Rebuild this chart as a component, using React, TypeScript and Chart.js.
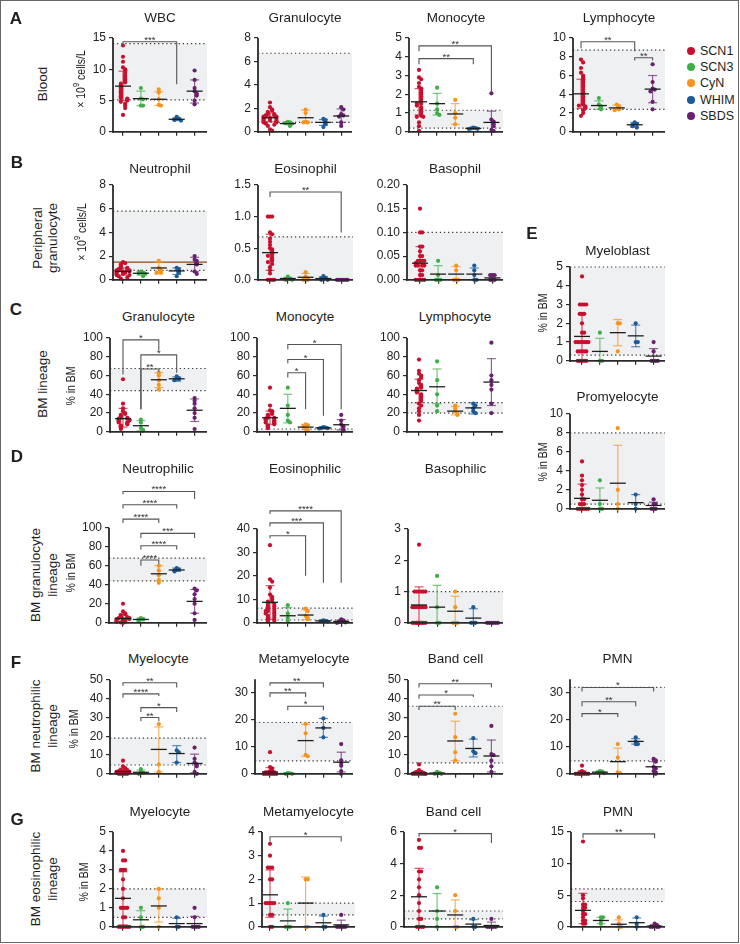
import React, { useEffect, useRef } from 'react';
import { Chart, registerables } from 'chart.js';

Chart.register(...registerables);

const FONT = '"Liberation Sans", Arial, Helvetica, sans-serif';
const groups = ['SCN1', 'SCN3', 'CyN', 'WHIM', 'SBDS'];
const groupColors = ['#c8102e', '#3fae49', '#f7941d', '#1c5a9a', '#6b1f6f'];

type Sig = [number, number, number, number, number, string];

// ---------- A: Blood ----------
const aWbcValues = [
  [13.8, 12.0, 11.2, 10.3, 10.0, 9.8, 9.4, 9.0, 8.7, 8.4, 8.1, 7.9, 7.7, 7.5, 7.3, 7.1, 6.9, 6.7, 6.5, 6.3, 6.1, 5.9, 5.7, 5.5, 5.4, 5.3, 5.2, 5.0, 4.8, 4.5, 4.2, 3.8, 2.7],
  [7.0, 5.3, 5.2, 4.2, 4.2],
  [6.8, 6.3, 5.2, 4.3, 4.2],
  [2.4, 2.1, 2.0, 1.9, 1.8],
  [9.8, 8.3, 7.0, 6.5, 6.1, 5.8, 5.0, 4.4],
];
const aWbcMean = [7.3, 5.3, 5.2, 2.0, 6.5];
const aWbcLow = [5.0, 4.2, 4.2, 1.8, 4.6];
const aWbcHigh = [9.7, 6.5, 6.4, 2.2, 8.3];
const aWbcRef = [5.1, 14.1];
const aWbcSig: Sig[] = [[0, 3, 14.4, 13.6, 7.6, '***']];

const aGranValues = [
  [2.5, 2.1, 1.9, 1.8, 1.7, 1.6, 1.5, 1.5, 1.4, 1.4, 1.3, 1.3, 1.3, 1.2, 1.2, 1.2, 1.1, 1.1, 1.0, 1.0, 1.0, 0.9, 0.9, 0.8, 0.8, 0.7, 0.6, 0.5, 0.2, 0.1],
  [0.85, 0.8, 0.75, 0.7, 0.5],
  [1.9, 1.6, 0.85, 0.8, 0.8],
  [1.1, 1.0, 0.8, 0.65, 0.4],
  [2.1, 1.9, 1.5, 1.4, 1.3, 0.8, 0.5],
];
const aGranMean = [1.2, 0.7, 1.2, 0.8, 1.35];
const aGranLow = [0.85, 0.6, 0.8, 0.55, 0.8];
const aGranHigh = [1.6, 0.8, 1.85, 1.05, 1.95];
const aGranRef = [0.8, 6.7];
const aGranSig: Sig[] = [];

const aMonoValues = [
  [3.3, 2.9, 2.8, 2.6, 2.4, 2.3, 2.2, 2.1, 2.0, 1.9, 1.8, 1.7, 1.6, 1.5, 1.5, 1.4, 1.3, 1.2, 1.1, 1.0, 0.9, 0.85, 0.8, 0.8, 0.5, 0.3, 0.05],
  [2.35, 1.5, 1.2, 1.0, 0.9],
  [1.7, 1.0, 0.75, 0.4],
  [0.22, 0.2, 0.18, 0.16, 0.15],
  [2.05, 0.65, 0.55, 0.5, 0.4, 0.3, 0.1, 0.05],
];
const aMonoMean = [1.6, 1.5, 0.95, 0.18, 0.5];
const aMonoLow = [0.9, 0.9, 0.4, 0.15, 0.0];
const aMonoHigh = [2.3, 2.05, 1.5, 0.21, 1.1];
const aMonoRef = [0.2, 1.15];
const aMonoSig: Sig[] = [[0, 3, 3.9, 3.6, 3.6, '**'], [0, 4, 4.58, 4.3, 2.15, '**']];

const aLymphValues = [
  [7.7, 7.4, 6.8, 6.3, 6.0, 5.8, 5.6, 5.4, 5.2, 5.0, 4.8, 4.5, 4.2, 4.0, 3.8, 3.6, 3.4, 3.2, 3.0, 2.9, 2.8, 2.7, 2.6, 2.5, 2.3, 2.0, 1.7],
  [3.6, 2.9, 2.7, 2.5, 2.4],
  [2.9, 2.7, 2.5, 2.4, 2.3],
  [1.0, 0.85, 0.75, 0.6, 0.45],
  [7.2, 5.3, 4.6, 4.5, 4.3, 3.2, 2.4],
];
const aLymphMean = [4.05, 2.8, 2.55, 0.75, 4.55];
const aLymphLow = [2.5, 2.4, 2.35, 0.5, 3.1];
const aLymphHigh = [5.6, 3.3, 2.85, 1.0, 6.0];
const aLymphRef = [2.4, 8.7];
const aLymphSig: Sig[] = [[0, 3, 9.6, 8.9, 8.6, '**'], [3, 4, 7.9, 7.6, 7.6, '**']];

// ---------- B: Peripheral granulocyte ----------
const bNeutValues = [
  [1.5, 1.4, 1.3, 1.2, 1.1, 1.0, 1.0, 0.9, 0.9, 0.8, 0.8, 0.8, 0.7, 0.7, 0.7, 0.6, 0.6, 0.6, 0.5, 0.5, 0.4, 0.4, 0.3, 0.2, 0.1],
  [0.7, 0.6, 0.55, 0.5, 0.3],
  [1.6, 1.0, 0.8, 0.6, 0.6],
  [1.0, 0.9, 0.7, 0.6, 0.3],
  [2.0, 1.7, 1.6, 1.4, 1.3, 0.7, 0.5],
];
const bNeutMean = [0.7, 0.55, 1.0, 0.75, 1.3];
const bNeutLow = [0.4, 0.4, 0.5, 0.45, 0.7];
const bNeutHigh = [1.0, 0.7, 1.5, 1.0, 1.9];
const bNeutRef = [0.8, 5.8];
const bNeutLine = 1.5;
const bNeutSig: Sig[] = [];

const bEosValues = [
  [1.0, 1.0, 1.0, 0.75, 0.72, 0.65, 0.6, 0.55, 0.5, 0.48, 0.45, 0.42, 0.4, 0.38, 0.35, 0.32, 0.3, 0.28, 0.25, 0.2, 0.15, 0.1, 0.0, 0.0, 0.0, 0.0],
  [0.05, 0.02, 0.01, 0.0, 0.0],
  [0.12, 0.05, 0.02, 0.0, 0.0],
  [0.06, 0.03, 0.02, 0.0, 0.0],
  [0.0, 0.0, 0.0, 0.0, 0.0, 0.0],
];
const bEosMean = [0.43, 0.02, 0.04, 0.02, 0.0];
const bEosLow = [0.15, 0.0, 0.0, 0.0, 0.0];
const bEosHigh = [0.72, 0.04, 0.1, 0.05, 0.0];
const bEosRef = [0, 0.68];
const bEosSig: Sig[] = [[0, 4, 1.39, 1.31, 0.75, '**']];

const bBasoValues = [
  [0.15, 0.10, 0.10, 0.07, 0.07, 0.06, 0.05, 0.05, 0.04, 0.04, 0.04, 0.04, 0.035, 0.03, 0.03, 0.03, 0.03, 0.02, 0.02, 0.01, 0.01, 0, 0, 0, 0, 0],
  [0.04, 0.01, 0, 0, 0],
  [0.03, 0.02, 0, 0, 0],
  [0.03, 0.02, 0.01, 0, 0],
  [0.01, 0.01, 0.01, 0, 0, 0],
];
const bBasoMean = [0.035, 0.012, 0.012, 0.012, 0.004];
const bBasoLow = [0, 0, 0, 0, 0];
const bBasoHigh = [0.07, 0.03, 0.028, 0.025, 0.009];
const bBasoRef = [0, 0.10];
const bBasoSig: Sig[] = [];

// ---------- C: BM lineage ----------
const cGranValues = [
  [56, 30, 25, 22, 20, 19, 18, 17, 16, 15, 15, 14, 14, 13, 13, 12, 12, 11, 10, 10, 9, 8, 7, 6, 5, 4, 3],
  [13, 10, 4, 2, 1],
  [63, 60, 55, 50, 45],
  [59, 57, 56, 55],
  [36, 33, 30, 25, 20, 15, 3],
];
const cGranMean = [14, 6.5, 55.5, 56.5, 23];
const cGranLow = [5, 1, 47, 54, 11];
const cGranHigh = [25, 12, 63, 58.5, 35];
const cGranRef = [44, 67.5];
const cGranSig: Sig[] = [[0, 2, 98, 61, 87, '*'], [1, 3, 82, 24, 63, '*'], [1, 2, 67, 24, 64, '**']];

const cMonoValues = [
  [47, 28, 23, 22, 20, 19, 18, 17, 16, 15, 15, 14, 14, 13, 12, 12, 11, 10, 10, 9, 8, 7, 6, 5, 4],
  [47, 28, 18, 12, 10],
  [8, 7, 6, 3, 2],
  [5, 4.5, 4, 3.8, 3.5],
  [18, 12, 8, 6, 4, 2, 1],
];
const cMonoMean = [15, 25, 5, 4.2, 7.5];
const cMonoLow = [8, 9.5, 2.5, 3.6, 2];
const cMonoHigh = [22, 40, 8, 5, 13];
const cMonoRef = [0, 3];
const cMonoSig: Sig[] = [[1, 2, 63, 58, 24, '*'], [1, 3, 77, 73, 17, '*'], [1, 4, 93, 88, 24, '*']];

const cLymphValues = [
  [77, 65, 62, 60, 58, 55, 52, 50, 48, 47, 46, 45, 44, 43, 42, 40, 38, 36, 35, 33, 30, 28, 25, 22, 18, 12],
  [75, 55, 40, 28, 22],
  [28, 25, 22, 20, 18],
  [30, 28, 25, 22, 20],
  [95, 60, 55, 50, 45, 30, 20],
];
const cLymphMean = [44, 48, 22, 25.5, 53];
const cLymphLow = [31, 30, 18, 19, 28];
const cLymphHigh = [56, 67, 27, 31, 78];
const cLymphRef = [20, 31];
const cLymphSig: Sig[] = [];

// ---------- D: BM granulocyte lineage ----------
const dNeutValues = [
  [20, 12, 10, 9, 8, 7, 6, 6, 5, 5, 5, 4, 4, 4, 3, 3, 3, 2, 2, 2, 1, 1, 1, 0.5, 0],
  [5, 4, 3, 2],
  [60, 55, 50, 45, 42],
  [57.5, 56, 55, 54],
  [36, 34, 30, 25, 20, 10, 3],
];
const dNeutMean = [4.5, 3.5, 51.5, 55.5, 22.5];
const dNeutLow = [1, 2, 44, 54, 10];
const dNeutHigh = [9, 5, 60, 57.5, 35];
const dNeutRef = [44, 68];
const dNeutSig: Sig[] = [
  [0, 4, 138, 135, 130, '****'],
  [0, 3, 124, 120, 120, '****'],
  [0, 2, 109, 105, 105, '****'],
  [1, 4, 94, 89, 89, '***'],
  [1, 3, 81, 77, 77, '****'],
  [1, 2, 66, 60, 62, '****'],
];

const dEosValues = [
  [33, 18.5, 17.5, 15, 12, 11, 10, 9, 9, 8, 8, 7, 7, 6, 6, 5, 5, 5, 4, 4, 3, 3, 2, 2, 1.5, 1, 0.5],
  [7.5, 4, 2, 0.5],
  [6, 5, 3, 2, 1.5],
  [1, 0.8, 0.7, 0.5],
  [1.5, 1, 0.5, 0.3, 0.2, 0],
];
const dEosMean = [8.7, 3, 3.3, 0.8, 0.6];
const dEosLow = [1.5, 0, 1.3, 0.5, 0];
const dEosHigh = [15.8, 6.5, 5.5, 1, 1.2];
const dEosRef = [1.2, 6.2];
const dEosSig: Sig[] = [[0, 4, 47.6, 46.3, 17, '****'], [0, 3, 42.5, 41, 17, '***'], [0, 2, 37, 36, 20, '*']];

const dBasoValues = [
  [2.5, 1, 1, 1, 1, 1, 1, 0.5, 0.5, 0.5, 0.5, 0.5, 0.5, 0.5, 0.5, 0, 0, 0, 0, 0, 0, 0, 0, 0, 0],
  [1.5, 0.5, 0, 0],
  [1, 0.5, 0, 0, 0],
  [0.5, 0, 0, 0],
  [0, 0, 0, 0, 0, 0],
];
const dBasoMean = [0.57, 0.5, 0.37, 0.15, 0];
const dBasoLow = [0, 0, 0, 0, 0];
const dBasoHigh = [1.15, 1.2, 0.85, 0.45, 0];
const dBasoRef = [0, 1];
const dBasoSig: Sig[] = [];

// ---------- E ----------
const eBlastValues = [
  [4.5, 3, 3, 3, 3, 2.5, 2.5, 2.5, 2, 1.5, 1.5, 1, 1, 1, 1, 1, 1, 1, 0.5, 0.5, 0.5, 0.5, 0.5, 0, 0, 0, 0, 0],
  [1.5, 0, 0],
  [2, 2, 0.5],
  [2, 1, 1],
  [1, 0.5, 0, 0, 0, 0],
];
const eBlastMean = [1.3, 0.5, 1.5, 1.33, 0.25];
const eBlastLow = [0, 0, 0.8, 0.75, 0];
const eBlastHigh = [2.5, 1.2, 2.2, 1.9, 0.65];
const eBlastRef = [0.3, 5];
const eBlastSig: Sig[] = [];

const eProValues = [
  [5, 3.5, 3, 2.5, 2, 1.5, 1, 1, 0.5, 0.5, 0.5, 0, 0, 0, 0, 0, 0],
  [3, 0.5, 0, 0],
  [8.5, 2, 0.5, 0],
  [1.5, 0.5, 0],
  [1, 0.5, 0.5, 0, 0, 0],
];
const eProMean = [1.1, 0.9, 2.7, 0.65, 0.35];
const eProLow = [0, 0, 0, 0, 0.05];
const eProHigh = [2.6, 2.2, 6.7, 1.5, 0.7];
const eProRef = [0.5, 8];
const eProSig: Sig[] = [];

// ---------- F: BM neutrophilic lineage ----------
const fMyeloValues = [
  [7, 4, 3, 2.5, 2, 2, 1.5, 1.5, 1, 1, 1, 1, 0.5, 0.5, 0.5, 0, 0, 0, 0, 0],
  [2.5, 1, 0.5, 0],
  [26.5, 5, 1],
  [12.5, 11.5, 6],
  [14, 8, 6, 5, 4, 1, 0],
];
const fMyeloMean = [1.2, 0.8, 13, 10.8, 5.5];
const fMyeloLow = [0, 0, 1, 6, 0.5];
const fMyeloHigh = [3, 2, 25, 15, 10.5];
const fMyeloRef = [4.7, 19];
const fMyeloSig: Sig[] = [[0, 3, 48.5, 47, 46, '**'], [0, 2, 42.6, 40.5, 41.5, '****'], [1, 3, 35.3, 33, 33, '*'], [1, 2, 30, 28, 28, '**']];

const fMetaValues = [
  [8, 2.5, 2, 1, 1, 0.5, 0.5, 0.5, 0, 0, 0, 0, 0, 0, 0],
  [0.3, 0.2, 0, 0],
  [18.5, 15, 7, 6.5],
  [20.5, 17, 13.5],
  [11, 5, 4, 3, 1, 0],
];
const fMetaMean = [0.7, 0.1, 12.3, 17, 4.3];
const fMetaLow = [0, 0, 6.5, 13.5, 0.7];
const fMetaHigh = [2.3, 0.3, 18.3, 20.5, 8];
const fMetaRef = [4.8, 19];
const fMetaSig: Sig[] = [[0, 3, 33.7, 32.6, 32, '**'], [0, 2, 30, 28.5, 28.5, '**'], [1, 3, 25, 23.5, 23.5, '*']];

const fBandValues = [
  [5, 2, 1, 1, 0.5, 0.5, 0.5, 0, 0, 0, 0, 0, 0, 0, 0],
  [1, 0.5, 0, 0],
  [32, 19.5, 11.5, 7],
  [19, 12, 11],
  [25.5, 10.5, 10, 7, 4, 1],
];
const fBandMean = [0.5, 0.4, 17.5, 13.5, 9.5];
const fBandLow = [0, 0, 7, 9, 1];
const fBandHigh = [1.5, 0.8, 28, 18.5, 18];
const fBandRef = [5.8, 36];
const fBandSig: Sig[] = [[0, 4, 48, 46, 46, '**'], [0, 3, 42, 40, 41, '*'], [0, 2, 36, 34, 34, '**']];

const fPmnValues = [
  [3, 1, 0.5, 0.5, 0, 0, 0, 0, 0, 0, 0, 0],
  [1, 0.8, 0.5, 0.2],
  [11, 6, 0.5, 0.3],
  [13.5, 12, 11, 11],
  [5.5, 5, 4.5, 2.5, 2, 1, 0.5, 0],
];
const fPmnMean = [0.3, 0.6, 4.5, 12, 2.6];
const fPmnLow = [0, 0.2, 0, 11, 0];
const fPmnHigh = [1, 1, 9.5, 13, 4.5];
const fPmnRef = [4.8, 32];
const fPmnSig: Sig[] = [[0, 4, 32, 30.5, 30.5, '*'], [0, 3, 26.7, 25, 25, '**'], [0, 2, 22.3, 21, 21, '*']];

// ---------- G: BM eosinophilic lineage ----------
const gMyeloValues = [
  [4, 3.5, 3.5, 3, 3, 3, 2.5, 2, 1.5, 1, 1, 1, 1, 0.5, 0.5, 0, 0, 0, 0, 0, 0],
  [1, 0.5, 0, 0],
  [2, 1.5, 1, 0],
  [0.5, 0, 0],
  [1, 0.5, 0, 0, 0, 0],
];
const gMyeloMean = [1.5, 0.37, 1.1, 0.17, 0.17];
const gMyeloLow = [0.1, 0, 0.25, 0, 0];
const gMyeloHigh = [2.9, 0.85, 2, 0.45, 0.55];
const gMyeloRef = [0.5, 2];
const gMyeloSig: Sig[] = [];

const gMetaValues = [
  [3.5, 3, 2.5, 2.5, 2.5, 2, 2, 1, 1, 1, 1, 1, 0.5, 0.5, 0, 0],
  [1, 0, 0, 0],
  [2, 2, 0, 0],
  [0.5, 0, 0],
  [0.5, 0, 0, 0, 0, 0],
];
const gMetaMean = [1.35, 0.25, 1, 0.17, 0.08];
const gMetaLow = [0.4, 0, 0, 0, 0];
const gMetaHigh = [2.4, 0.75, 2.1, 0.45, 0.28];
const gMetaRef = [0.5, 1];
const gMetaSig: Sig[] = [[0, 4, 3.8, 3.6, 3.6, '*']];

const gBandValues = [
  [5.5, 5, 5, 3.5, 3.5, 3, 2.5, 2, 1.5, 1, 0.5, 0.5, 0, 0, 0, 0],
  [2.5, 1, 0.5, 0],
  [2, 1, 0, 0],
  [0.5, 0, 0],
  [0.5, 0, 0, 0, 0, 0],
];
const gBandMean = [1.9, 1, 0.75, 0.17, 0.08];
const gBandLow = [0, 0, 0, 0, 0];
const gBandHigh = [3.7, 2.1, 1.7, 0.45, 0.3];
const gBandRef = [0.5, 1];
const gBandSig: Sig[] = [[0, 4, 5.9, 5.7, 5.3, '*']];

const gPmnValues = [
  [13.5, 5, 4.5, 3.5, 3.5, 3, 3, 2.5, 2, 2, 1.5, 1, 1, 0.5, 0.5],
  [1.5, 1.5, 1, 0.5],
  [1.5, 0.5, 0, 0],
  [1.5, 0.5, 0],
  [0.5, 0.3, 0, 0, 0, 0],
];
const gPmnMean = [2.6, 1, 0.4, 0.65, 0.1];
const gPmnLow = [0.5, 0.5, 0, 0, 0];
const gPmnHigh = [5.3, 1.5, 1.1, 1.4, 0.35];
const gPmnRef = [4, 6];
const gPmnSig: Sig[] = [[0, 4, 14.7, 14, 14, '**']];

// ---------- layout / config ----------
interface PanelCfg {
  key: string;
  title: string;
  titleY: number;
  values: number[][];
  mean: number[];
  low: number[];
  high: number[];
  ref: number[];
  sig: Sig[];
  tickMax: number;
  tickStep: number;
  decimals?: number;
  axisX: number;
  right: number;
  cat0: number;
  step: number;
  y0: number;
  yTop: number;
  axisMax?: number;
  scaleMax?: number;
  hLine?: number;
}

const C1 = { cat0: 123, step: 17.9, right: 207 };
const C2 = { cat0: 270, step: 17.8, right: 353 };
const C3 = { cat0: 419, step: 18.1, right: 503 };
const C4 = { cat0: 582, step: 17.9, right: 665 };

const panels: PanelCfg[] = [
  { key: 'aWbc', title: 'WBC', titleY: 18, values: aWbcValues, mean: aWbcMean, low: aWbcLow, high: aWbcHigh, ref: aWbcRef, sig: aWbcSig, tickMax: 15, tickStep: 5, axisX: 113, ...C1, y0: 133, yTop: 38 },
  { key: 'aGran', title: 'Granulocyte', titleY: 18, values: aGranValues, mean: aGranMean, low: aGranLow, high: aGranHigh, ref: aGranRef, sig: aGranSig, tickMax: 8, tickStep: 2, axisX: 258, ...C2, right: 352, y0: 133, yTop: 38 },
  { key: 'aMono', title: 'Monocyte', titleY: 18, values: aMonoValues, mean: aMonoMean, low: aMonoLow, high: aMonoHigh, ref: aMonoRef, sig: aMonoSig, tickMax: 5, tickStep: 1, axisX: 409, ...C3, y0: 133, yTop: 38 },
  { key: 'aLymph', title: 'Lymphocyte', titleY: 18, values: aLymphValues, mean: aLymphMean, low: aLymphLow, high: aLymphHigh, ref: aLymphRef, sig: aLymphSig, tickMax: 10, tickStep: 2, axisX: 573, ...C4, cat0: 581, y0: 133, yTop: 38 },

  { key: 'bNeut', title: 'Neutrophil', titleY: 169, values: bNeutValues, mean: bNeutMean, low: bNeutLow, high: bNeutHigh, ref: bNeutRef, sig: bNeutSig, tickMax: 8, tickStep: 2, axisX: 113, ...C1, y0: 281, yTop: 185, hLine: bNeutLine },
  { key: 'bEos', title: 'Eosinophil', titleY: 169, values: bEosValues, mean: bEosMean, low: bEosLow, high: bEosHigh, ref: bEosRef, sig: bEosSig, tickMax: 1.5, tickStep: 0.5, decimals: 1, axisX: 258, ...C2, y0: 281, yTop: 185 },
  { key: 'bBaso', title: 'Basophil', titleY: 169, values: bBasoValues, mean: bBasoMean, low: bBasoLow, high: bBasoHigh, ref: bBasoRef, sig: bBasoSig, tickMax: 0.2, tickStep: 0.05, decimals: 2, axisX: 407, ...C3, cat0: 420, y0: 281, yTop: 185 },

  { key: 'cGran', title: 'Granulocyte', titleY: 317, values: cGranValues, mean: cGranMean, low: cGranLow, high: cGranHigh, ref: cGranRef, sig: cGranSig, tickMax: 100, tickStep: 20, axisX: 110, ...C1, y0: 433, yTop: 338 },
  { key: 'cMono', title: 'Monocyte', titleY: 317, values: cMonoValues, mean: cMonoMean, low: cMonoLow, high: cMonoHigh, ref: cMonoRef, sig: cMonoSig, tickMax: 100, tickStep: 20, axisX: 257, ...C2, y0: 433, yTop: 338 },
  { key: 'cLymph', title: 'Lymphocyte', titleY: 317, values: cLymphValues, mean: cLymphMean, low: cLymphLow, high: cLymphHigh, ref: cLymphRef, sig: cLymphSig, tickMax: 100, tickStep: 20, axisX: 407, ...C3, y0: 433, yTop: 338 },

  { key: 'dNeut', title: 'Neutrophilic', titleY: 469, values: dNeutValues, mean: dNeutMean, low: dNeutLow, high: dNeutHigh, ref: dNeutRef, sig: dNeutSig, tickMax: 100, tickStep: 20, axisX: 109, ...C1, y0: 624, yTop: 528, scaleMax: 142 },
  { key: 'dEos', title: 'Eosinophilic', titleY: 469, values: dEosValues, mean: dEosMean, low: dEosLow, high: dEosHigh, ref: dEosRef, sig: dEosSig, tickMax: 40, tickStep: 10, axisX: 257, ...C2, y0: 624, yTop: 529, scaleMax: 50 },
  { key: 'dBaso', title: 'Basophilic', titleY: 469, values: dBasoValues, mean: dBasoMean, low: dBasoLow, high: dBasoHigh, ref: dBasoRef, sig: dBasoSig, tickMax: 3, tickStep: 1, axisX: 408, ...C3, y0: 624, yTop: 529 },

  { key: 'eBlast', title: 'Myeloblast', titleY: 251, values: eBlastValues, mean: eBlastMean, low: eBlastLow, high: eBlastHigh, ref: eBlastRef, sig: eBlastSig, tickMax: 5, tickStep: 1, axisX: 570, ...C4, y0: 362, yTop: 267 },
  { key: 'ePro', title: 'Promyelocyte', titleY: 397, values: eProValues, mean: eProMean, low: eProLow, high: eProHigh, ref: eProRef, sig: eProSig, tickMax: 10, tickStep: 2, axisX: 570, ...C4, y0: 510, yTop: 414 },

  { key: 'fMyelo', title: 'Myelocyte', titleY: 659, values: fMyeloValues, mean: fMyeloMean, low: fMyeloLow, high: fMyeloHigh, ref: fMyeloRef, sig: fMyeloSig, tickMax: 50, tickStep: 10, axisX: 110, ...C1, y0: 775, yTop: 680 },
  { key: 'fMeta', title: 'Metamyelocyte', titleY: 659, values: fMetaValues, mean: fMetaMean, low: fMetaLow, high: fMetaHigh, ref: fMetaRef, sig: fMetaSig, tickMax: 30, tickStep: 10, axisX: 255, ...C2, y0: 775, yTop: 693, axisMax: 35 },
  { key: 'fBand', title: 'Band cell', titleY: 659, values: fBandValues, mean: fBandMean, low: fBandLow, high: fBandHigh, ref: fBandRef, sig: fBandSig, tickMax: 50, tickStep: 10, axisX: 408, ...C3, y0: 775, yTop: 680 },
  { key: 'fPmn', title: 'PMN', titleY: 659, values: fPmnValues, mean: fPmnMean, low: fPmnLow, high: fPmnHigh, ref: fPmnRef, sig: fPmnSig, tickMax: 30, tickStep: 10, axisX: 570, ...C4, y0: 775, yTop: 693, axisMax: 35 },

  { key: 'gMyelo', title: 'Myelocyte', titleY: 812, values: gMyeloValues, mean: gMyeloMean, low: gMyeloLow, high: gMyeloHigh, ref: gMyeloRef, sig: gMyeloSig, tickMax: 5, tickStep: 1, axisX: 113, ...C1, y0: 928, yTop: 832 },
  { key: 'gMeta', title: 'Metamyelocyte', titleY: 812, values: gMetaValues, mean: gMetaMean, low: gMetaLow, high: gMetaHigh, ref: gMetaRef, sig: gMetaSig, tickMax: 4, tickStep: 1, axisX: 262, ...C2, right: 355, y0: 928, yTop: 832 },
  { key: 'gBand', title: 'Band cell', titleY: 812, values: gBandValues, mean: gBandMean, low: gBandLow, high: gBandHigh, ref: gBandRef, sig: gBandSig, tickMax: 6, tickStep: 2, axisX: 404, ...C3, y0: 928, yTop: 832 },
  { key: 'gPmn', title: 'PMN', titleY: 812, values: gPmnValues, mean: gPmnMean, low: gPmnLow, high: gPmnHigh, ref: gPmnRef, sig: gPmnSig, tickMax: 15, tickStep: 5, axisX: 571, ...C4, cat0: 583, y0: 928, yTop: 832 },
];

const YW = 36;
const PT = 12;

function hexA(hex: string, a: number) {
  const n = parseInt(hex.slice(1), 16);
  return `rgba(${(n >> 16) & 255},${(n >> 8) & 255},${n & 255},${a})`;
}

function jitterOffsets(vals: number[], tol: number): number[] {
  return vals.map((v, j) => {
    let k = 0;
    for (let m = 0; m < j; m++) if (Math.abs(vals[m] - v) < tol) k++;
    const slot = k % 7;
    if (slot === 0) return 0;
    return (slot % 2 ? 1 : -1) * Math.ceil(slot / 2) * 0.12;
  });
}

function PanelChart({ p }: { p: PanelCfg }) {
  const ref = useRef<HTMLCanvasElement | null>(null);
  const ppu = (p.y0 - p.yTop) / p.tickMax;
  const axisMax = p.axisMax ?? p.tickMax;
  const scaleMax = p.scaleMax ?? axisMax;
  const topPx = p.y0 - scaleMax * ppu;
  const canvasTop = Math.floor(topPx - PT);
  const padTop = topPx - canvasTop;
  const left = p.axisX - YW;
  const plotW = p.right - p.axisX;
  const width = YW + plotW + 4;
  const height = Math.ceil(p.y0 - canvasTop + 9);
  const xh = height - (p.y0 - canvasTop);

  useEffect(() => {
    if (!ref.current) return;
    const xmin = -(p.cat0 - p.axisX) / p.step;
    const xmax = xmin + plotW / p.step;
    const tickVals: number[] = [];
    for (let v = 0; v <= p.tickMax + 1e-9; v += p.tickStep) tickVals.push(Math.round(v * 1000) / 1000);
    const dec = p.decimals ?? 0;

    const line = (ctx: CanvasRenderingContext2D, x1: number, y1: number, x2: number, y2: number) => {
      ctx.beginPath();
      ctx.moveTo(x1, y1);
      ctx.lineTo(x2, y2);
      ctx.stroke();
    };

    const overlay = {
      id: 'overlay' + p.key,
      beforeDatasetsDraw(chart: any) {
        const { ctx, chartArea: ca, scales } = chart;
        const y = scales.y;
        const x = scales.x;
        ctx.save();
        const [lo, hi] = p.ref;
        const yl = y.getPixelForValue(lo);
        const yh = y.getPixelForValue(hi);
        ctx.fillStyle = '#eef0f2';
        ctx.fillRect(ca.left, yh, ca.right - ca.left, yl - yh);
        ctx.strokeStyle = '#3a3a3a';
        ctx.lineWidth = 1.2;
        ctx.setLineDash([1.3, 2.8]);
        [lo, hi].forEach((v) => {
          if (v > 0) {
            const py = y.getPixelForValue(v);
            line(ctx, ca.left, py, ca.right, py);
          }
        });
        ctx.setLineDash([]);
        if (p.hLine != null) {
          ctx.strokeStyle = '#8a4a1c';
          ctx.lineWidth = 1.3;
          const py = y.getPixelForValue(p.hLine);
          line(ctx, ca.left, py, ca.right, py);
        }
        // error bars
        p.mean.forEach((m, i) => {
          if (p.high[i] - p.low[i] <= 0) return;
          const cx = x.getPixelForValue(i);
          const y1 = y.getPixelForValue(p.low[i]);
          const y2 = y.getPixelForValue(p.high[i]);
          ctx.strokeStyle = hexA(groupColors[i], 0.7);
          ctx.lineWidth = 1.2;
          line(ctx, cx, y1, cx, y2);
          line(ctx, cx - 4.5, y1, cx + 4.5, y1);
          line(ctx, cx - 4.5, y2, cx + 4.5, y2);
        });
        ctx.restore();
      },
      afterDatasetsDraw(chart: any) {
        const { ctx, chartArea: ca, scales } = chart;
        const y = scales.y;
        const x = scales.x;
        ctx.save();
        // mean lines
        p.mean.forEach((m, i) => {
          const cx = x.getPixelForValue(i);
          const py = y.getPixelForValue(m);
          ctx.strokeStyle = '#1e1e1e';
          ctx.lineWidth = 1.3;
          line(ctx, cx - 8, py, cx + 8, py);
        });
        // axes
        ctx.strokeStyle = '#2a2a2a';
        ctx.lineWidth = 1.8;
        const y0 = y.getPixelForValue(0);
        line(ctx, ca.left - 0.9, y0, ca.right, y0);
        line(ctx, ca.left, y0 + 0.9, ca.left, y.getPixelForValue(axisMax));
        // significance brackets
        p.sig.forEach(([a, b, top, ya, yb, label]) => {
          const xa = x.getPixelForValue(a);
          const xb = x.getPixelForValue(b);
          const yt = y.getPixelForValue(top);
          ctx.strokeStyle = '#555';
          ctx.lineWidth = 1.1;
          ctx.beginPath();
          ctx.moveTo(xa, y.getPixelForValue(ya));
          ctx.lineTo(xa, yt);
          ctx.lineTo(xb, yt);
          ctx.lineTo(xb, y.getPixelForValue(yb));
          ctx.stroke();
          ctx.fillStyle = '#333';
          ctx.font = '9.5px ' + FONT;
          ctx.textAlign = 'center';
          ctx.textBaseline = 'alphabetic';
          ctx.fillText(label, (xa + xb) / 2, yt + 1);
        });
        ctx.restore();
      },
    };

    const tol = p.tickMax * 0.03;
    const datasets = p.values.map((vals, g) => {
      const offs = jitterOffsets(vals, tol);
      return {
        type: 'scatter' as const,
        label: groups[g],
        data: vals.map((v, j) => ({ x: g + offs[j], y: v })),
        backgroundColor: groupColors[g],
        borderWidth: 0,
        pointRadius: 2.1,
        clip: false as any,
      };
    });

    const chart = new Chart(ref.current, {
      type: 'scatter',
      data: { datasets },
      plugins: [overlay],
      options: {
        animation: false,
        responsive: false,
        devicePixelRatio: 1,
        events: [],
        layout: { padding: { top: padTop, right: width - YW - plotW, left: 0, bottom: 0 } },
        plugins: { legend: { display: false }, tooltip: { enabled: false } },
        scales: {
          x: {
            type: 'linear',
            min: xmin,
            max: xmax,
            afterBuildTicks: (s: any) => {
              s.ticks = [0, 1, 2, 3, 4].map((v) => ({ value: v }));
            },
            afterFit: (s: any) => {
              s.height = xh;
            },
            ticks: { display: false },
            grid: { drawOnChartArea: false, drawTicks: true, tickLength: 4, color: '#2a2a2a', lineWidth: 1.2 },
            border: { display: false },
          },
          y: {
            type: 'linear',
            min: 0,
            max: scaleMax,
            afterBuildTicks: (s: any) => {
              s.ticks = tickVals.map((v) => ({ value: v }));
            },
            afterFit: (s: any) => {
              s.width = YW;
            },
            ticks: {
              autoSkip: false,
              padding: 3,
              color: '#222',
              font: { family: FONT, size: 12 },
              callback: (v: any) => Number(v).toFixed(dec),
            },
            grid: { drawOnChartArea: false, drawTicks: true, tickLength: 4, color: '#2a2a2a', lineWidth: 1.2 },
            border: { display: false },
          },
        },
      } as any,
    });
    return () => chart.destroy();
  }, []);

  return (
    <canvas
      ref={ref}
      width={width}
      height={height}
      style={{ position: 'absolute', left, top: canvasTop, width, height }}
    />
  );
}

function Txt({ x, y, children, size = 13, weight = 400, align = 'center' }: any) {
  return (
    <div
      style={{
        position: 'absolute',
        left: x,
        top: y,
        transform: align === 'center' ? 'translate(-50%,-50%)' : 'translate(0,-50%)',
        fontSize: size,
        fontWeight: weight,
        whiteSpace: 'nowrap',
        color: '#1e1e1e',
        lineHeight: 1.15,
      }}
    >
      {children}
    </div>
  );
}

function VText({ x, y, lines, size = 13, narrow = false, lh = 17 }: any) {
  return (
    <div
      style={{
        position: 'absolute',
        left: x,
        top: y,
        transform: `translate(-50%,-50%) rotate(-90deg)${narrow ? ' scaleX(0.84)' : ''}`,
        whiteSpace: 'nowrap',
        textAlign: 'center',
        fontSize: size,
        lineHeight: `${lh}px`,
        color: '#1e1e1e',
      }}
    >
      {lines.map((l: any, i: number) => (
        <div key={i}>{l}</div>
      ))}
    </div>
  );
}

const unitCells = (
  <span>
    × 10<sup style={{ fontSize: 9, verticalAlign: 'super', lineHeight: 0 }}>9</sup> cells/L
  </span>
);

const letters = [
  { t: 'A', x: 16, y: 19 },
  { t: 'B', x: 17, y: 163 },
  { t: 'C', x: 16, y: 310 },
  { t: 'D', x: 17, y: 457 },
  { t: 'E', x: 532, y: 234 },
  { t: 'F', x: 16, y: 663 },
  { t: 'G', x: 17, y: 820 },
];

const legendY = [51, 67, 83, 100, 116];

export default function App() {
  return (
    <div
      style={{
        position: 'absolute',
        left: 0,
        top: 0,
        width: 740,
        height: 944,
        background: '#fff',
        overflow: 'hidden',
        fontFamily: FONT,
      }}
    >
      <div
        style={{
          position: 'absolute',
          left: 0,
          top: 0,
          width: 739,
          height: 943,
          border: '1px solid #666',
          boxSizing: 'border-box',
        }}
      />
      {panels.map((p) => (
        <PanelChart key={p.key} p={p} />
      ))}
      {panels.map((p) => (
        <Txt key={'t' + p.key} x={(p.axisX + p.right) / 2} y={p.titleY} size={13.5}>
          {p.title}
        </Txt>
      ))}
      {letters.map((l) => (
        <Txt key={l.t} x={l.x} y={l.y} size={17} weight={700}>
          {l.t}
        </Txt>
      ))}
      <VText x={42} y={84} lines={['Blood']} size={13.5} />
      <VText x={45} y={238} lines={['Peripheral', 'granulocyte']} lh={15} size={13.5} />
      <VText x={42} y={384} lines={['BM lineage']} size={13.5} />
      <VText x={44} y={575} lines={['BM granulocyte', 'lineage']} lh={17} size={13.5} />
      <VText x={44} y={726} lines={['BM neutrophilic', 'lineage']} lh={17} size={13.5} />
      <VText x={44} y={879} lines={['BM eosinophilic', 'lineage']} lh={17} size={13.5} />

      <VText x={81} y={79} lines={[unitCells]} size={12.5} narrow />
      <VText x={82} y={232} lines={[unitCells]} size={12.5} narrow />
      <VText x={71} y={386} lines={['% in BM']} size={12.5} narrow />
      <VText x={71} y={573} lines={['% in BM']} size={12.5} narrow />
      <VText x={74} y={729} lines={['% in BM']} size={12.5} narrow />
      <VText x={84} y={882} lines={['% in BM']} size={12.5} narrow />
      <VText x={543} y={313} lines={['% in BM']} size={12.5} narrow />
      <VText x={543} y={462} lines={['% in BM']} size={12.5} narrow />

      {groups.map((g, i) => (
        <React.Fragment key={g}>
          <div
            style={{
              position: 'absolute',
              left: 687,
              top: legendY[i] - 4,
              width: 8,
              height: 8,
              borderRadius: 4,
              background: groupColors[i],
            }}
          />
          <Txt x={700} y={legendY[i]} size={12.5} align="left">
            {g}
          </Txt>
        </React.Fragment>
      ))}
    </div>
  );
}
